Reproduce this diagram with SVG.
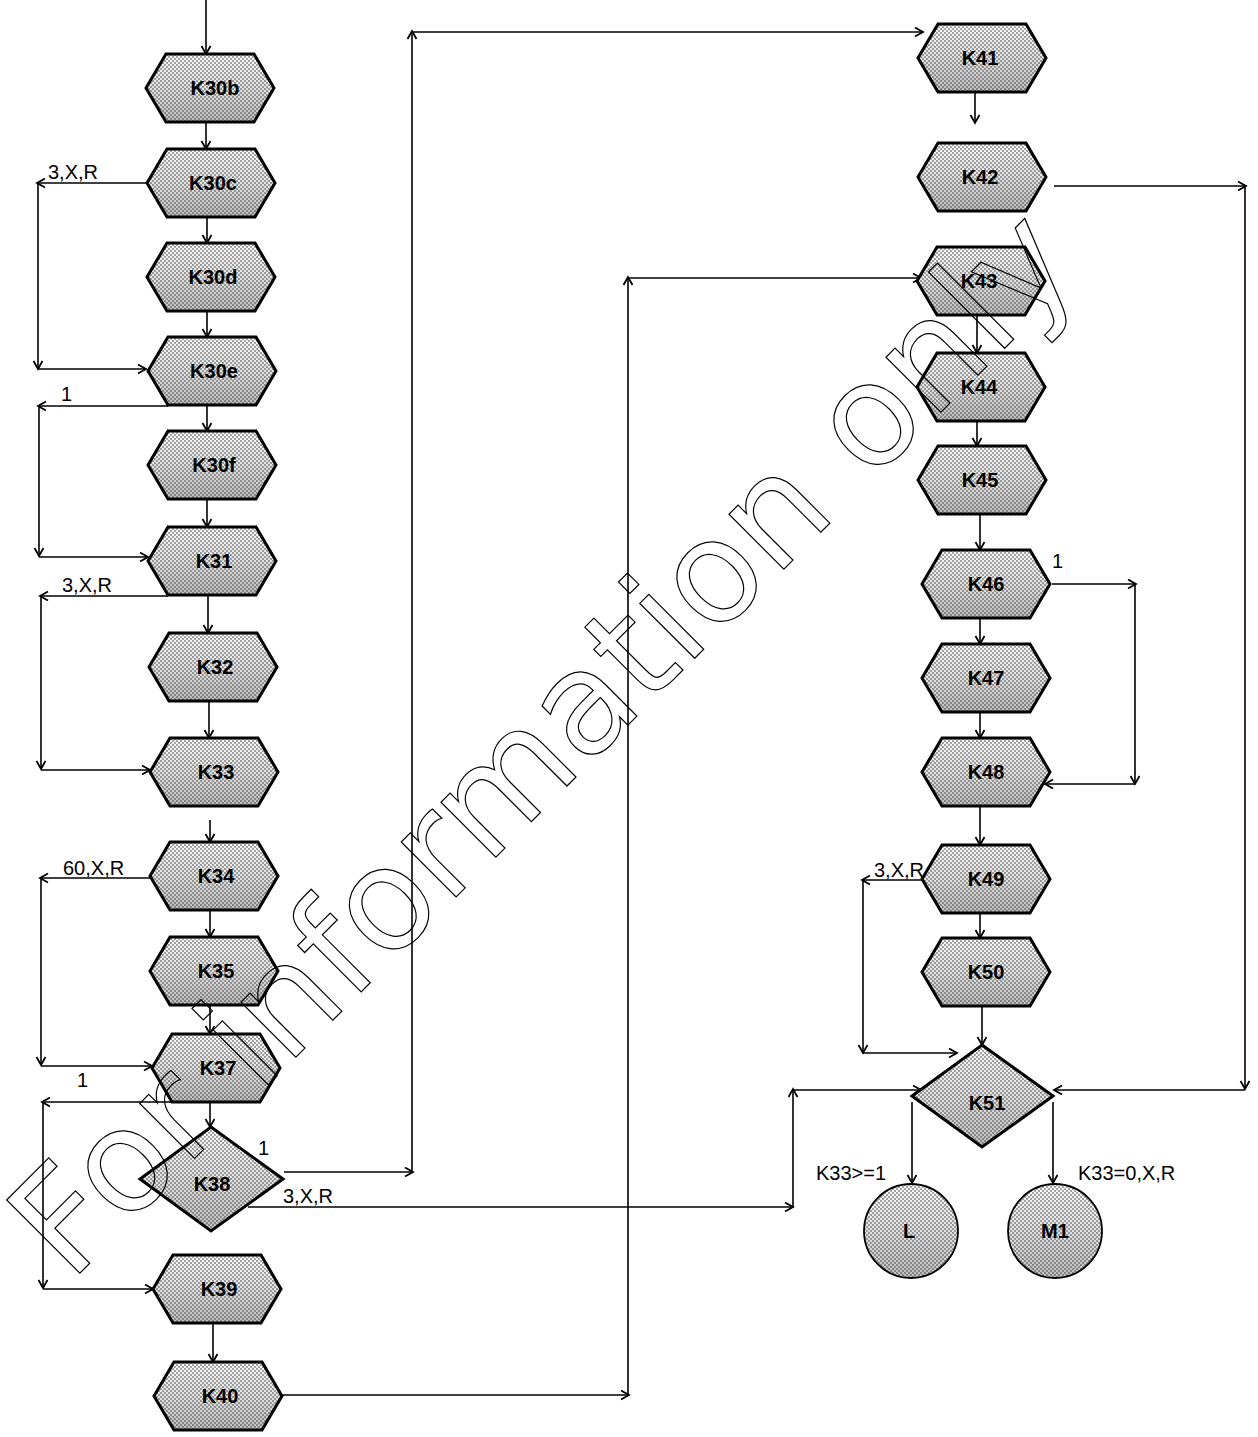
<svg xmlns="http://www.w3.org/2000/svg" width="1258" height="1437" viewBox="0 0 1258 1437">
<style>
.bg{fill:url(#shade);stroke:none}
.fg{fill:url(#dots);stroke:#000;stroke-width:3;stroke-linejoin:miter}
.nt{font-family:"Liberation Sans",Arial,sans-serif;font-weight:bold;font-size:20px;text-anchor:middle;fill:#000}
.lb{font-family:"Liberation Sans",Arial,sans-serif;font-size:20px;fill:#000}
.c line{stroke:#000;stroke-width:1.6;marker-end:url(#ah)}
.wm{font-family:"DejaVu Sans",Verdana,sans-serif;font-size:142px;fill:none;stroke:#000;stroke-width:1.2}
</style>
<defs>
<linearGradient id="shade" x1="0" y1="0" x2="0" y2="1">
<stop offset="0" stop-color="#fafafa"/>
<stop offset="0.5" stop-color="#e2e2e2"/>
<stop offset="1" stop-color="#bcbcbc"/>
</linearGradient>
<pattern id="dots" width="4" height="4" patternUnits="userSpaceOnUse">
<circle cx="1" cy="1" r="0.78" fill="#2a2a2a"/>
<circle cx="3" cy="3" r="0.78" fill="#2a2a2a"/>
</pattern>
<marker id="ah" markerWidth="12" markerHeight="12" refX="9" refY="5" orient="auto" markerUnits="userSpaceOnUse">
<path d="M1,0.5 L9,5 L1,9.5" fill="none" stroke="#000" stroke-width="1.8"/>
</marker>
</defs>

<g id="connectors" class="c">
<line x1="206" y1="0" x2="206" y2="54"/>
<line x1="206" y1="122" x2="206" y2="149"/>
<line x1="207" y1="217" x2="207" y2="243"/>
<line x1="207" y1="311" x2="207" y2="337"/>
<line x1="207" y1="405" x2="207" y2="431"/>
<line x1="207" y1="499" x2="207" y2="527"/>
<line x1="208" y1="595" x2="208" y2="633"/>
<line x1="209" y1="701" x2="209" y2="738"/>
<line x1="210" y1="820" x2="210" y2="842"/>
<line x1="210" y1="910" x2="210" y2="937"/>
<line x1="210" y1="1005" x2="210" y2="1034"/>
<line x1="210" y1="1102" x2="210" y2="1127"/>
<line x1="213" y1="1323" x2="213" y2="1362"/>
<line x1="975" y1="92" x2="975" y2="123"/>
<line x1="977" y1="315" x2="977" y2="353"/>
<line x1="977" y1="421" x2="977" y2="446"/>
<line x1="980" y1="514" x2="980" y2="550"/>
<line x1="980" y1="618" x2="980" y2="644"/>
<line x1="980" y1="712" x2="980" y2="738"/>
<line x1="980" y1="806" x2="980" y2="845"/>
<line x1="980" y1="913" x2="980" y2="938"/>
<line x1="982" y1="1006" x2="982" y2="1045"/>
<line x1="912" y1="1102" x2="912" y2="1183"/>
<line x1="1053" y1="1102" x2="1053" y2="1183"/>
<line x1="147" y1="183" x2="37" y2="183"/>
<line x1="38" y1="183" x2="38" y2="369"/>
<line x1="38" y1="369" x2="146" y2="369"/>
<line x1="168" y1="406" x2="38" y2="406"/>
<line x1="39" y1="406" x2="39" y2="556"/>
<line x1="39" y1="557" x2="148" y2="557"/>
<line x1="168" y1="596" x2="40" y2="596"/>
<line x1="41" y1="596" x2="41" y2="769"/>
<line x1="41" y1="770" x2="150" y2="770"/>
<line x1="150" y1="878" x2="40" y2="878"/>
<line x1="41" y1="878" x2="41" y2="1065"/>
<line x1="41" y1="1066" x2="152" y2="1066"/>
<line x1="172" y1="1102" x2="42" y2="1102"/>
<line x1="43" y1="1102" x2="43" y2="1288"/>
<line x1="43" y1="1289" x2="153" y2="1289"/>
<line x1="284" y1="1172" x2="413" y2="1172"/>
<line x1="412" y1="1172" x2="412" y2="31"/>
<line x1="412" y1="32" x2="923" y2="32"/>
<line x1="248" y1="1207" x2="793" y2="1207"/>
<line x1="793" y1="1207" x2="793" y2="1089"/>
<line x1="793" y1="1090" x2="921" y2="1090"/>
<line x1="283" y1="1395" x2="629" y2="1395"/>
<line x1="628" y1="1395" x2="628" y2="277"/>
<line x1="628" y1="278" x2="921" y2="278"/>
<line x1="1054" y1="186" x2="1246" y2="186"/>
<line x1="1245" y1="186" x2="1245" y2="1089"/>
<line x1="1245" y1="1090" x2="1054" y2="1090"/>
<line x1="1052" y1="584" x2="1136" y2="584"/>
<line x1="1135" y1="584" x2="1135" y2="784"/>
<line x1="1135" y1="784" x2="1045" y2="784"/>
<line x1="923" y1="880" x2="862" y2="880"/>
<line x1="863" y1="880" x2="863" y2="1053"/>
<line x1="863" y1="1053" x2="957" y2="1053"/>
</g>

<g id="labels">
<text class="lb" x="48" y="179">3,X,R</text>
<text class="lb" x="61" y="401">1</text>
<text class="lb" x="62" y="592">3,X,R</text>
<text class="lb" x="63" y="875">60,X,R</text>
<text class="lb" x="77" y="1087">1</text>
<text class="lb" x="258" y="1155">1</text>
<text class="lb" x="283" y="1203">3,X,R</text>
<text class="lb" x="1052" y="568">1</text>
<text class="lb" x="874" y="877">3,X,R</text>
<text class="lb" x="816" y="1180">K33&gt;=1</text>
<text class="lb" x="1078" y="1180">K33=0,X,R</text>
</g>

<g id="K30b"><polygon class="bg" points="146,88 166,54 254,54 274,88 254,122 166,122"/><polygon class="fg" points="146,88 166,54 254,54 274,88 254,122 166,122"/><text class="nt" x="215" y="95">K30b</text></g>
<g id="K30c"><polygon class="bg" points="147,183 167,149 255,149 275,183 255,217 167,217"/><polygon class="fg" points="147,183 167,149 255,149 275,183 255,217 167,217"/><text class="nt" x="213" y="190">K30c</text></g>
<g id="K30d"><polygon class="bg" points="147,277 167,243 255,243 275,277 255,311 167,311"/><polygon class="fg" points="147,277 167,243 255,243 275,277 255,311 167,311"/><text class="nt" x="213" y="284">K30d</text></g>
<g id="K30e"><polygon class="bg" points="148,371 168,337 256,337 276,371 256,405 168,405"/><polygon class="fg" points="148,371 168,337 256,337 276,371 256,405 168,405"/><text class="nt" x="214" y="378">K30e</text></g>
<g id="K30f"><polygon class="bg" points="148,465 168,431 256,431 276,465 256,499 168,499"/><polygon class="fg" points="148,465 168,431 256,431 276,465 256,499 168,499"/><text class="nt" x="214" y="472">K30f</text></g>
<g id="K31"><polygon class="bg" points="148,561 168,527 256,527 276,561 256,595 168,595"/><polygon class="fg" points="148,561 168,527 256,527 276,561 256,595 168,595"/><text class="nt" x="214" y="568">K31</text></g>
<g id="K32"><polygon class="bg" points="149,667 169,633 257,633 277,667 257,701 169,701"/><polygon class="fg" points="149,667 169,633 257,633 277,667 257,701 169,701"/><text class="nt" x="215" y="674">K32</text></g>
<g id="K33"><polygon class="bg" points="150,772 170,738 258,738 278,772 258,806 170,806"/><polygon class="fg" points="150,772 170,738 258,738 278,772 258,806 170,806"/><text class="nt" x="216" y="779">K33</text></g>
<g id="K34"><polygon class="bg" points="150,876 170,842 258,842 278,876 258,910 170,910"/><polygon class="fg" points="150,876 170,842 258,842 278,876 258,910 170,910"/><text class="nt" x="216" y="883">K34</text></g>
<g id="K35"><polygon class="bg" points="150,971 170,937 258,937 278,971 258,1005 170,1005"/><polygon class="fg" points="150,971 170,937 258,937 278,971 258,1005 170,1005"/><text class="nt" x="216" y="978">K35</text></g>
<g id="K37"><polygon class="bg" points="152,1068 172,1034 260,1034 280,1068 260,1102 172,1102"/><polygon class="fg" points="152,1068 172,1034 260,1034 280,1068 260,1102 172,1102"/><text class="nt" x="218" y="1075">K37</text></g>
<g id="K38"><polygon class="bg" points="211,1127 283,1179 211,1231 140,1179"/><polygon class="fg" points="211,1127 283,1179 211,1231 140,1179"/><text class="nt" x="212" y="1191">K38</text></g>
<g id="K39"><polygon class="bg" points="153,1289 173,1255 261,1255 281,1289 261,1323 173,1323"/><polygon class="fg" points="153,1289 173,1255 261,1255 281,1289 261,1323 173,1323"/><text class="nt" x="219" y="1296">K39</text></g>
<g id="K40"><polygon class="bg" points="154,1396 174,1362 262,1362 282,1396 262,1430 174,1430"/><polygon class="fg" points="154,1396 174,1362 262,1362 282,1396 262,1430 174,1430"/><text class="nt" x="220" y="1403">K40</text></g>

<g id="K41"><polygon class="bg" points="918,58 938,24 1026,24 1046,58 1026,92 938,92"/><polygon class="fg" points="918,58 938,24 1026,24 1046,58 1026,92 938,92"/><text class="nt" x="980" y="65">K41</text></g>
<g id="K42"><polygon class="bg" points="918,177 938,143 1026,143 1046,177 1026,211 938,211"/><polygon class="fg" points="918,177 938,143 1026,143 1046,177 1026,211 938,211"/><text class="nt" x="980" y="184">K42</text></g>
<g id="K43"><polygon class="bg" points="917,281 937,247 1025,247 1045,281 1025,315 937,315"/><polygon class="fg" points="917,281 937,247 1025,247 1045,281 1025,315 937,315"/><text class="nt" x="979" y="288">K43</text></g>
<g id="K44"><polygon class="bg" points="917,387 937,353 1025,353 1045,387 1025,421 937,421"/><polygon class="fg" points="917,387 937,353 1025,353 1045,387 1025,421 937,421"/><text class="nt" x="979" y="394">K44</text></g>
<g id="K45"><polygon class="bg" points="918,480 938,446 1026,446 1046,480 1026,514 938,514"/><polygon class="fg" points="918,480 938,446 1026,446 1046,480 1026,514 938,514"/><text class="nt" x="980" y="487">K45</text></g>
<g id="K46"><polygon class="bg" points="922,584 942,550 1030,550 1050,584 1030,618 942,618"/><polygon class="fg" points="922,584 942,550 1030,550 1050,584 1030,618 942,618"/><text class="nt" x="986" y="591">K46</text></g>
<g id="K47"><polygon class="bg" points="922,678 942,644 1030,644 1050,678 1030,712 942,712"/><polygon class="fg" points="922,678 942,644 1030,644 1050,678 1030,712 942,712"/><text class="nt" x="986" y="685">K47</text></g>
<g id="K48"><polygon class="bg" points="922,772 942,738 1030,738 1050,772 1030,806 942,806"/><polygon class="fg" points="922,772 942,738 1030,738 1050,772 1030,806 942,806"/><text class="nt" x="986" y="779">K48</text></g>
<g id="K49"><polygon class="bg" points="922,879 942,845 1030,845 1050,879 1030,913 942,913"/><polygon class="fg" points="922,879 942,845 1030,845 1050,879 1030,913 942,913"/><text class="nt" x="986" y="886">K49</text></g>
<g id="K50"><polygon class="bg" points="922,972 942,938 1030,938 1050,972 1030,1006 942,1006"/><polygon class="fg" points="922,972 942,938 1030,938 1050,972 1030,1006 942,1006"/><text class="nt" x="986" y="979">K50</text></g>
<g id="K51"><polygon class="bg" points="982,1045 1053,1096 982,1147 912,1096"/><polygon class="fg" points="982,1045 1053,1096 982,1147 912,1096"/><text class="nt" x="987" y="1110">K51</text></g>
<g id="L"><circle class="bg" cx="911" cy="1231" r="47"/><circle class="fg" cx="911" cy="1231" r="47" style="stroke-width:1.8"/><text class="nt" x="909" y="1238">L</text></g>
<g id="M1"><circle class="bg" cx="1055" cy="1231" r="47"/><circle class="fg" cx="1055" cy="1231" r="47" style="stroke-width:1.8"/><text class="nt" x="1055" y="1238">M1</text></g>

<text class="wm" transform="translate(70,1283) rotate(-45)">For information only</text>
</svg>
